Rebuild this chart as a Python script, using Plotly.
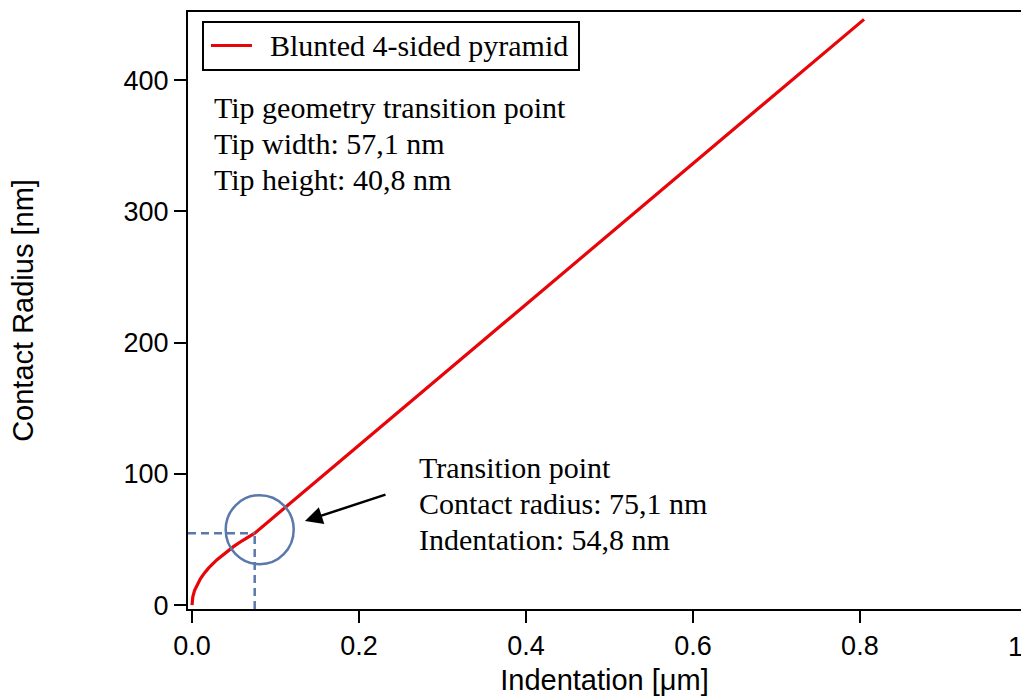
import plotly.graph_objects as go

# Contact radius curve of a blunted 4-sided pyramid tip
indentation_um = [0.0, 0.001, 0.003, 0.006, 0.010, 0.015, 0.020, 0.030, 0.040,
                  0.050, 0.060, 0.0751, 0.2, 0.4, 0.6, 0.805]
contact_radius_nm = [0.0, 6.3, 11.0, 15.5, 20.0, 24.5, 28.3, 34.6, 40.0,
                     44.7, 49.0, 54.8, 121.8, 229.1, 336.4, 446.4]
series_name = "Blunted 4-sided pyramid"

# Transition point marker
transition_x = 0.0751
transition_y = 54.8

x_ticks = [0.0, 0.2, 0.4, 0.6, 0.8]
x_tick_text = ["0.0", "0.2", "0.4", "0.6", "0.8"]
y_ticks = [0, 100, 200, 300, 400]

info_lines = ["Tip geometry transition point", "Tip width: 57,1 nm", "Tip height: 40,8 nm"]
transition_lines = ["Transition point", "Contact radius: 75,1 nm", "Indentation: 54,8 nm"]

RED = "#e8050a"
BLUE = "#5a78aa"
SANS = "Liberation Sans, Arial, sans-serif"
SERIF = "Liberation Serif, Times New Roman, serif"

fig = go.Figure()
fig.add_trace(go.Scatter(
    x=indentation_um, y=contact_radius_nm, mode="lines",
    name=series_name, showlegend=False,
    line=dict(color=RED, width=3.2),
))

x_range = [-0.0048, 0.993]
y_range = [-3, 452]

fig.update_layout(
    width=1021, height=696,
    margin=dict(l=188, r=0, t=12, b=87),
    paper_bgcolor="white", plot_bgcolor="white",
    xaxis=dict(
        range=x_range, tickvals=x_ticks, ticktext=x_tick_text,
        showline=True, linecolor="black", linewidth=2, mirror=True,
        ticks="outside", ticklen=12, tickwidth=2, tickcolor="black",
        showgrid=False, zeroline=False,
        tickfont=dict(family=SANS, size=27, color="black"),
        title=dict(text="Indentation [μm]", font=dict(family=SANS, size=29, color="black"),
                   standoff=10),
    ),
    yaxis=dict(
        range=y_range, tickvals=y_ticks,
        showline=True, linecolor="black", linewidth=2, mirror=False,
        ticks="outside", ticklen=12, tickwidth=2, tickcolor="black",
        showgrid=False, zeroline=False,
        tickfont=dict(family=SANS, size=27, color="black"),
        title=dict(text="Contact Radius [nm]", font=dict(family=SANS, size=29, color="black"),
                   standoff=81),
    ),
)

# Legend box with line sample and label
fig.add_shape(type="rect", xref="paper", yref="paper",
              x0=0.018, x1=0.4694, y0=0.9028, y1=0.9832,
              fillcolor="white", line=dict(color="black", width=2))
fig.add_shape(type="line", xref="paper", yref="paper",
              x0=0.0276, x1=0.0768, y0=0.944, y1=0.944,
              line=dict(color=RED, width=3))
fig.add_annotation(x=0.096, y=0.944, xref="paper", yref="paper",
                   xanchor="left", yanchor="middle", text=series_name, showarrow=False,
                   font=dict(family=SERIF, size=30, color="black"))

# Dashed guide lines to the transition point
fig.add_shape(type="line", xref="x", yref="y", x0=x_range[0], x1=transition_x,
              y0=transition_y, y1=transition_y,
              line=dict(color=BLUE, width=2.5, dash="8px,5px"))
fig.add_shape(type="line", xref="x", yref="y", x0=transition_x, x1=transition_x,
              y0=y_range[0], y1=transition_y,
              line=dict(color=BLUE, width=2.5, dash="8px,5px"))

# Circle highlighting the transition
fig.add_shape(type="circle", xref="x", yref="y",
              xsizemode="pixel", ysizemode="pixel",
              xanchor=transition_x, yanchor=transition_y,
              x0=-29, x1=39, y0=-31, y1=38,
              line=dict(color=BLUE, width=2.5))

# Arrow pointing at the circle
fig.add_annotation(x=0.1353, y=64, xref="x", yref="y", ax=82, ay=-27,
                   text="", showarrow=True, arrowhead=2, arrowsize=1.4,
                   arrowwidth=2.5, arrowcolor="black")

# Text blocks
for i, line in enumerate(info_lines):
    fig.add_annotation(x=0.024, y=393 - i * 36 / 1.312, xref="x", yref="y",
                       xanchor="left", yanchor="top", text=line, showarrow=False,
                       font=dict(family=SERIF, size=30, color="black"))
for i, line in enumerate(transition_lines):
    fig.add_annotation(x=0.2695, y=119 - i * 36 / 1.312, xref="x", yref="y",
                       xanchor="left", yanchor="top", text=line, showarrow=False,
                       font=dict(family=SERIF, size=30, color="black"))

# Partially visible tick label at 1.0 on the right edge
fig.add_annotation(x=(1027 - 188) / 833, y=0, xref="paper", yref="paper", yshift=-21,
                   xanchor="center", yanchor="top", text="1.0", showarrow=False,
                   font=dict(family=SANS, size=27, color="black"))

fig.write_html("out.html")
